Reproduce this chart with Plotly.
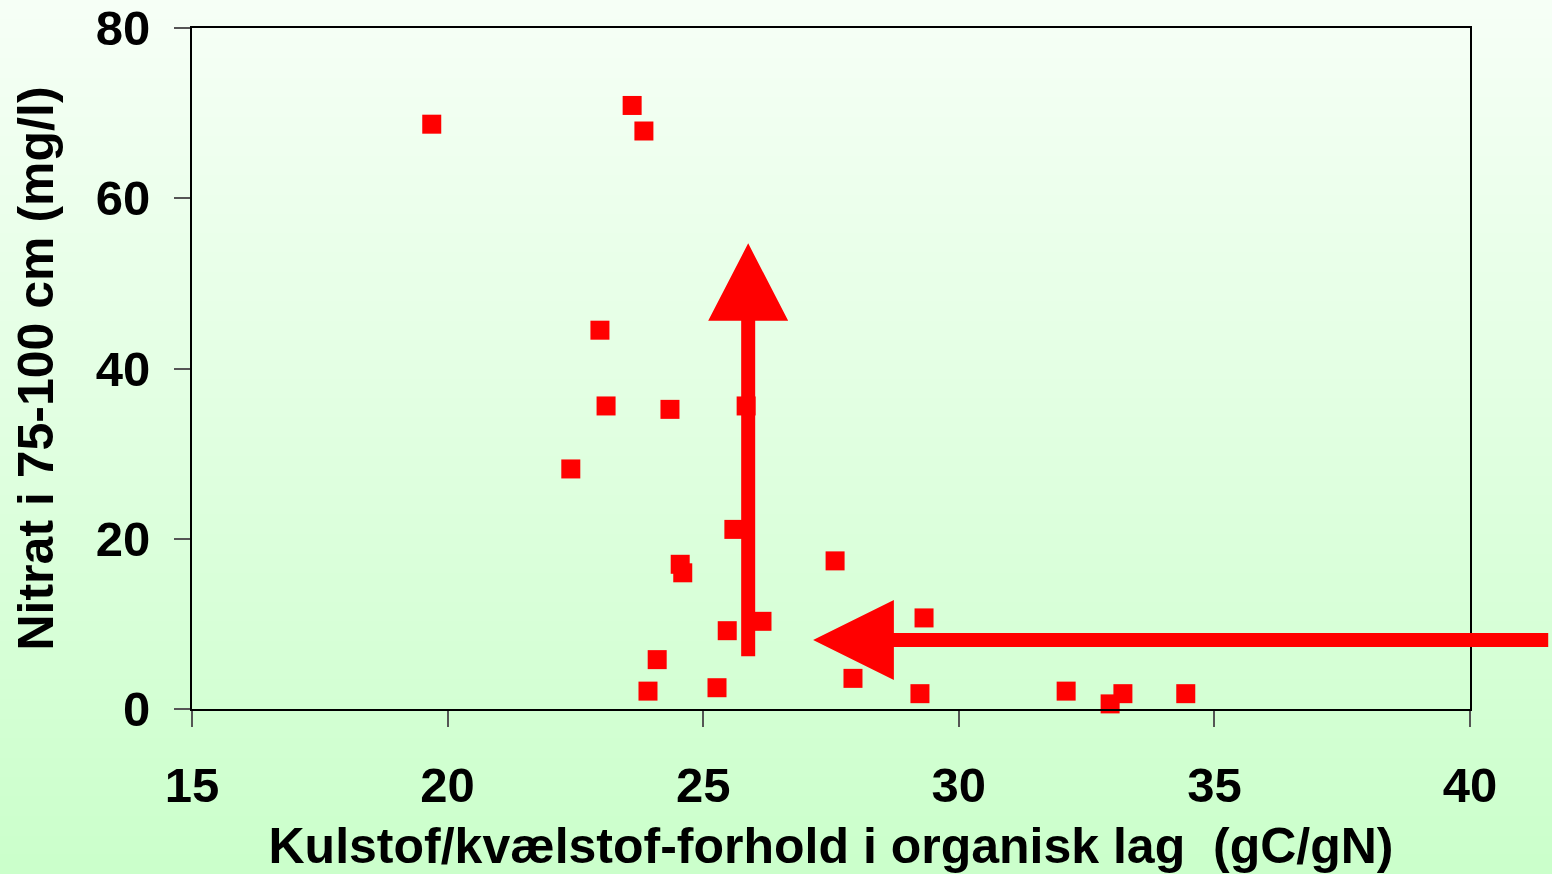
import plotly.graph_objects as go

# C/N ratio in organic layer vs nitrate in 75-100 cm
cn_ratio = [19.69, 23.61, 23.84, 22.98, 23.10, 24.35, 25.84, 22.41, 25.60, 24.55,
            24.60, 27.58, 29.32, 26.15, 25.47, 24.10, 23.92, 25.27, 27.93, 29.24,
            32.10, 32.96, 33.21, 34.44]
nitrate = [68.7, 70.9, 67.9, 44.5, 35.6, 35.2, 35.6, 28.2, 21.1, 17.0,
           16.0, 17.4, 10.7, 10.3, 9.2, 5.8, 2.1, 2.5, 3.6, 1.8,
           2.1, 0.6, 1.8, 1.8]

x_ticks = [15, 20, 25, 30, 35, 40]
y_ticks = [0, 20, 40, 60, 80]

x_range = [15, 40]
y_range = [0, 80]

W, H = 1552, 874
L, R, T, B = 192, 82, 28, 165
plot_w = W - L - R
plot_h = H - T - B


def px(x):
    return (x - x_range[0]) / (x_range[1] - x_range[0])


def py(y):
    return (y - y_range[0]) / (y_range[1] - y_range[0])


def poly(points):
    return "M " + " L ".join(f"{a:.5f},{b:.5f}" for a, b in points) + " Z"


shapes = []

# background gradient (whole page)
n_bands = 90
top_col = (246, 255, 246)
bot_col = (203, 255, 203)
y_lo = -B / plot_h
y_hi = 1 + T / plot_h
for i in range(n_bands):
    f = i / (n_bands - 1)
    c = tuple(round(bot_col[k] + (top_col[k] - bot_col[k]) * f) for k in range(3))
    y0 = y_lo + (y_hi - y_lo) * i / n_bands
    y1 = y_lo + (y_hi - y_lo) * (i + 1) / n_bands + 0.002
    shapes.append(dict(type="rect", xref="paper", yref="paper",
                       x0=-L / plot_w - 0.01, x1=1 + R / plot_w + 0.01, y0=y0, y1=y1,
                       fillcolor="rgb(%d,%d,%d)" % c, line=dict(width=0), layer="below"))

# arrows (data units -> paper)
hx = 7 / plot_w
hy = 7 / plot_h
headx = 40 / plot_w
heady = 40 / plot_h

# vertical arrow
vx, vy0, vbase, vtip = 25.88, 6.2, 45.6, 54.7
cx = px(vx)
shapes.append(dict(type="path", xref="paper", yref="paper", layer="above",
                   path=poly([(cx - hx, py(vy0)), (cx + hx, py(vy0)), (cx + hx, py(vbase)),
                              (cx + headx, py(vbase)), (cx, py(vtip)), (cx - headx, py(vbase)),
                              (cx - hx, py(vbase))]),
                   fillcolor="#ff0000", line=dict(width=0)))

# horizontal arrow
hy_c, hx_end, hbase, htip = 8.1, 41.53, 28.73, 27.15
cy = py(hy_c)
shapes.append(dict(type="path", xref="paper", yref="paper", layer="above",
                   path=poly([(px(hx_end), cy - hy), (px(hx_end), cy + hy), (px(hbase), cy + hy),
                              (px(hbase), cy + heady), (px(htip), cy), (px(hbase), cy - heady),
                              (px(hbase), cy - hy)]),
                   fillcolor="#ff0000", line=dict(width=0)))

fig = go.Figure(go.Scatter(
    x=cn_ratio, y=nitrate, mode="markers",
    marker=dict(symbol="square", size=19, color="#ff0000", line=dict(width=0)),
    showlegend=False, cliponaxis=False,
))

font_family = "Liberation Sans, Arial, sans-serif"

fig.update_layout(
    width=W, height=H,
    margin=dict(l=L, r=R, t=T, b=B, autoexpand=False),
    paper_bgcolor="#e0ffe0",
    plot_bgcolor="rgba(0,0,0,0)",
    shapes=shapes,
    font=dict(family=font_family, color="black"),
)

fig.update_xaxes(
    range=x_range, tickvals=x_ticks, showgrid=False, zeroline=False,
    showline=True, mirror=True, linecolor="black", linewidth=2,
    ticks="outside", ticklen=16, tickwidth=1.5, tickcolor="#555",
    ticklabelstandoff=16, automargin=False,
    tickfont=dict(size=49, family=font_family, weight="bold"),
    title=dict(text="Kulstof/kvælstof-forhold i organisk lag \u00a0(gC/gN)",
               font=dict(size=50, family=font_family, weight="bold"), standoff=20),
)
fig.update_yaxes(
    range=y_range, tickvals=y_ticks, showgrid=False, zeroline=False,
    showline=True, mirror=True, linecolor="black", linewidth=2,
    ticks="outside", ticklen=16, tickwidth=1.5, tickcolor="#555",
    ticklabelstandoff=14, automargin=False,
    tickfont=dict(size=49, family=font_family, weight="bold"),
    title=dict(text="Nitrat i 75-100 cm (mg/l)",
               font=dict(size=50, family=font_family, weight="bold"), standoff=26),
)

fig.write_html("out.html", config={"displayModeBar": False},
               post_script="document.body.style.margin='0';")
